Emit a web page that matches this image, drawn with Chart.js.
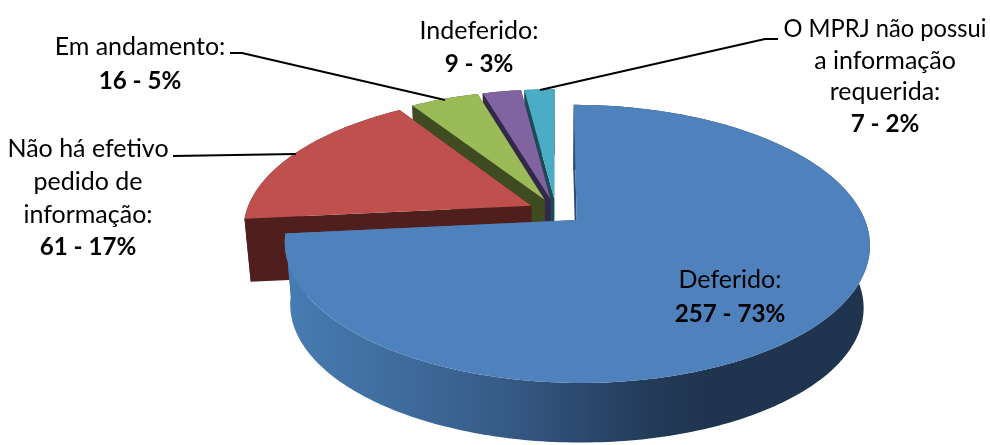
<!DOCTYPE html>
<html><head><meta charset="utf-8">
<style>html,body{margin:0;padding:0;background:#fff}canvas{display:block}</style>
<script src="https://cdn.jsdelivr.net/npm/chart.js@4"></script>
</head><body>
<canvas id="c" width="990" height="445"></canvas>
<script>
const categories = ["Deferido:", "Não há efetivo pedido de informação:", "Em andamento:", "Indeferido:", "O MPRJ não possui a informação requerida:"];
const values = [257, 61, 16, 9, 7];
const percents = ["73%", "17%", "5%", "3%", "2%"];
const topColors = ["#4f81bd", "#c0504d", "#9bbb59", "#8064a2", "#4bacc6"];
const wallColors = ["#1f344e", "#4f1f1e", "#3f4c22", "#33274a", "#1d4a57"];

const FONT = 'Lato, Carlito, sans-serif';
const P = {cx:556, cy:211.3, A:285, B:132, k:0.17, e:0.097, D:63, s:0.98};
function H(u,v,z){const w=1-P.k*v, s=z?P.s:1;return [P.cx+P.A*s*u/w, P.cy+z*P.D+P.B*s*v/w];}
function sliceGeom(el){
  const a0=el.startAngle+Math.PI/2, a1=el.endAngle+Math.PI/2, m=(a0+a1)/2;
  const ex=P.e*Math.sin(m), ey=-P.e*Math.cos(m);
  const n=Math.max(6,Math.ceil((a1-a0)/(Math.PI/180)));
  const arc=z=>{const r=[];for(let i=0;i<=n;i++){const t=a0+(a1-a0)*i/n;r.push(H(ex+Math.sin(t),ey-Math.cos(t),z));}return r;};
  return {apex:z=>H(ex,ey,z),arc};
}
function poly(ctx,pts,fill){ctx.beginPath();pts.forEach((p,i)=>i?ctx.lineTo(p[0],p[1]):ctx.moveTo(p[0],p[1]));ctx.closePath();ctx.fillStyle=fill;ctx.fill();}
const FS=25, FSB=24.2;
const labelLayout=[
  {i:0,x:730,y:288,lh:33.5,lines:["Deferido:"]},
  {i:1,x:88,y:157,lh:32.8,lines:["Não há efetivo","pedido de","informação:"]},
  {i:2,x:140,y:55,lh:33.5,lines:["Em andamento:"],maxW:[176]},
  {i:3,x:479,y:39,lh:33,lines:["Indeferido:"]},
  {i:4,x:885,y:37,lh:31.7,lines:["O MPRJ não possui","a informação","requerida:"],maxW:[203]}
];
const leaders=[
  [[230,53],[242,53],[445,100]],
  [[173,156],[296,154]],
  [[778,39],[765,39],[540,90]]
];
const pie3d={id:'pie3d',
  beforeDatasetDraw(chart,args){
    const ctx=chart.ctx, els=args.meta.data;
    const blueGrad=ctx.createLinearGradient(285,0,870,0);
    blueGrad.addColorStop(0,'#477cb3');blueGrad.addColorStop(0.2,'#3f6b9c');blueGrad.addColorStop(0.37,'#365b87');
    blueGrad.addColorStop(0.49,'#2d4b71');blueGrad.addColorStop(0.62,'#233b5a');blueGrad.addColorStop(0.72,'#1f344e');blueGrad.addColorStop(1,'#1f344e');
    ctx.save();
    for(let i=els.length-1;i>=0;i--){
      const g=sliceGeom(els[i]), t=g.arc(0), b=g.arc(1), a0=g.apex(0), a1=g.apex(1);
      const wall=i===0?blueGrad:wallColors[i];
      poly(ctx,[a0,t[0],b[0],a1],wall);
      poly(ctx,[a0,t[t.length-1],b[b.length-1],a1],wall);
      poly(ctx,t.concat(b.slice().reverse()),wall);
      poly(ctx,[a0].concat(t),els[i].options.backgroundColor);
    }
    ctx.restore();
    return false;
  },
  afterDraw(chart){
    const ctx=chart.ctx;
    ctx.save();
    ctx.strokeStyle='#000';ctx.lineWidth=2;ctx.lineJoin='round';
    leaders.forEach(l=>{ctx.beginPath();l.forEach((p,i)=>i?ctx.lineTo(p[0],p[1]):ctx.moveTo(p[0],p[1]));ctx.stroke();});
    ctx.fillStyle='#000';ctx.textAlign='center';ctx.textBaseline='alphabetic';
    labelLayout.forEach(L=>{
      L.lines.forEach((s,i)=>{
        ctx.font='400 '+FS+'px '+FONT;
        const mw=L.maxW&&L.maxW[i];
        if(mw) ctx.fillText(s,L.x,L.y+i*L.lh,mw); else ctx.fillText(s,L.x,L.y+i*L.lh);
      });
      ctx.font='700 '+FSB+'px '+FONT;
      ctx.fillText(values[L.i]+' - '+percents[L.i],L.x,L.y+L.lines.length*L.lh);
    });
    ctx.restore();
  }
};
new Chart(document.getElementById('c'),{
  type:'pie',
  data:{labels:categories,datasets:[{data:values,backgroundColor:topColors,borderWidth:0}]},
  options:{responsive:false,animation:false,plugins:{legend:{display:false},tooltip:{enabled:false}}},
  plugins:[pie3d]
});
</script>
</body></html>
